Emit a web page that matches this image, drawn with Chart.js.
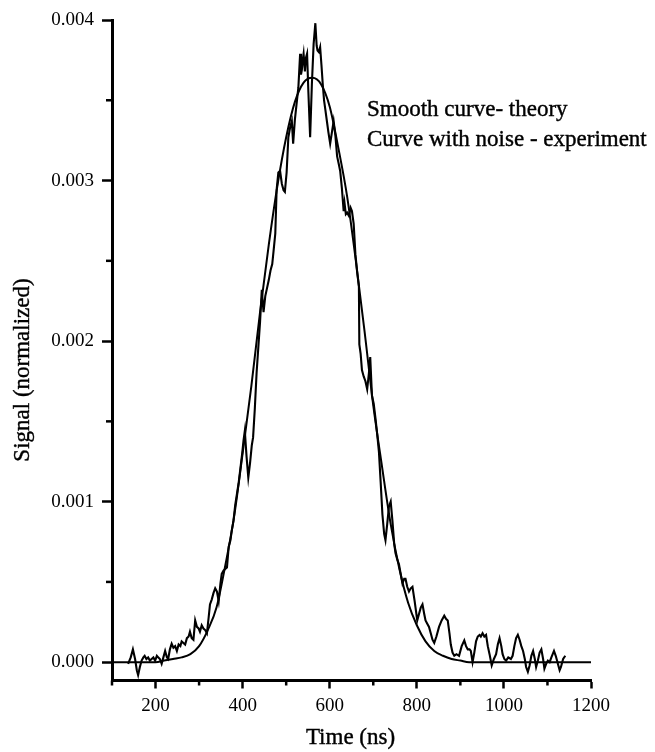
<!DOCTYPE html>
<html>
<head>
<meta charset="utf-8">
<script src="https://cdn.jsdelivr.net/npm/chart.js@4"></script>
<style>
  html, body { margin: 0; padding: 0; background: #ffffff; }
  #wrap { width: 655px; height: 752px; }
</style>
</head>
<body>
<div id="wrap"><canvas id="c" width="655" height="752"></canvas></div>
<script>
// ---- Data ----
// Theory (smooth curve)
const theoryTime = [100,120,140,160,180,200,220,240,260,280,300,320,340,360,380,400,420,440,460,480,500,520,540,560,580,600,620,640,660,680,700,720,740,760,780,800,820,840,860,880,900,920,960,1000,1050,1100,1150,1200];
const theorySignal = [0,0,0,0,0,0,0.00001,0.00002,0.00003,0.00005,0.0001,0.0002,0.00034,0.0006,0.0009,0.0013,0.00172,0.00218,0.0026,0.00297,0.00327,0.00349,0.00361,0.00364,0.0036,0.00346,0.0032,0.0029,0.0025,0.00206,0.0016,0.00122,0.00086,0.00058,0.00037,0.00023,0.00013,0.00007,0.00004,0.00002,0.00001,0,0,0,0,0,0,0];

// Experiment (curve with noise)
const expTime = [137,143,148,153,157,160,164,168,172,175,179,183,187,191,195,199,203,206,210,214,218,222,226,229,233,237,241,245,249,253,257,260,264,268,272,276,279,283,287,291,295,299,302,306,310,314,318,322,325,329,333,337,341,345,349,352,356,360,364,368,372,375,379,383,387,391,395,399,402,405,409,413,417,421,424,428,432,436,440,444,448,452,456,460,464,468,471,475,478,482,486,490,494,497,501,505,509,513,516,520,524,528,532,534,536,538,540,543,545,548,551,555,559,563,567,570,572,575,578,581,584,587,590,594,597,601,605,609,613,617,621,624,628,632,634,637,640,644,648,651,655,659,663,667,668,671,674,678,682,686,690,693,697,701,705,709,713,717,721,725,728,732,736,740,744,748,751,755,759,763,767,771,774,778,782,786,790,795,801,805,809,813,817,820,824,828,832,836,840,845,851,857,863,867,871,875,878,882,886,891,897,903,909,913,917,921,924,928,932,936,940,944,947,951,955,959,963,967,972,977,982,986,990,994,997,1001,1005,1010,1016,1020,1024,1028,1032,1036,1040,1044,1048,1051,1055,1059,1063,1067,1071,1074,1078,1082,1086,1090,1093,1097,1101,1105,1109,1115,1119,1122,1125,1128,1131,1136,1141];
const expSignal = [-0.00001,0.00003,0.00008,0.00002,-0.00005,-0.00008,-0.00003,0.00001,0.00003,0.00004,0.00002,0.00003,0.00001,0.00002,0.00003,0.00001,0.00004,0.00003,0.00002,-0.00001,0.00003,0.00007,0.00003,0.00002,0.00008,0.000115,0.00009,0.0001,0.00007,0.00011,0.0001,0.00013,0.00012,0.00011,0.00015,0.00016,0.00019,0.00015,0.00014,0.00026,0.00022,0.00021,0.00019,0.00023,0.00021,0.0002,0.00018,0.00028,0.00036,0.00039,0.00043,0.00046,0.00044,0.00038,0.00049,0.00055,0.00057,0.00058,0.00059,0.00072,0.00076,0.00082,0.00088,0.00098,0.00105,0.00112,0.00121,0.0013,0.00138,0.00144,0.00128,0.00115,0.00124,0.00135,0.0014,0.00158,0.0018,0.00196,0.00212,0.00232,0.00218,0.00228,0.00233,0.00238,0.00244,0.00248,0.00256,0.00267,0.00294,0.00305,0.00306,0.00298,0.00294,0.00293,0.00305,0.00327,0.00333,0.00337,0.00323,0.00338,0.00348,0.00358,0.00379,0.00366,0.00369,0.00375,0.00379,0.00368,0.00376,0.00379,0.00355,0.00327,0.0036,0.00385,0.00398,0.00384,0.00381,0.0038,0.00383,0.00372,0.0036,0.0035,0.00344,0.00336,0.0033,0.00323,0.0033,0.00337,0.00328,0.00315,0.0031,0.00306,0.00295,0.00281,0.00286,0.00279,0.0028,0.00278,0.00283,0.00281,0.00273,0.00254,0.00243,0.00234,0.00198,0.00192,0.00182,0.00178,0.00175,0.0017,0.0018,0.0019,0.00166,0.00161,0.00152,0.00142,0.00131,0.00112,0.00092,0.0008,0.00076,0.00086,0.00097,0.001,0.00088,0.00074,0.00068,0.00064,0.00061,0.00055,0.00049,0.00052,0.00052,0.00047,0.00044,0.00046,0.00047,0.00038,0.00026,0.0003,0.00034,0.00036,0.0003,0.00026,0.00024,0.00022,0.00018,0.00014,0.00012,0.00016,0.00022,0.00026,0.00029,0.00027,0.00026,0.00018,0.00011,0.00006,0.00004,0.00005,0.00004,0.0001,0.000135,0.0001,0.00008,0.00008,0.00007,0,0.00006,0.00013,0.00016,0.00017,0.00016,0.00018,0.00016,0.00017,0.0001,0.00005,-0.00002,0.00002,0.00005,0.00011,0.00015,0.0001,0.00005,0.00002,0.00001,0.00003,0.00002,0.00004,0.0001,0.00015,0.00017,0.00014,0.0001,0.00007,0.00002,-0.00003,-0.00006,-0.00002,0.00004,0.00007,0.00002,-0.00003,0.00001,0.00006,0.00008,0.00002,-0.00004,-0.00001,0.00001,0,0.00003,0.00007,0.00004,0.00001,-0.00002,-0.00005,-0.00003,0.00002,0.00004];

// Axis ticks / labels
const xMajorTicks = [200,400,600,800,1000,1200];
const xMinorTicks = [100,300,500,700,900,1100];
const yMajorTicks = [0,0.001,0.002,0.003,0.004];
const yMinorTicks = [0.0005,0.0015,0.0025,0.0035];
const xTitle = 'Time (ns)';
const yTitle = 'Signal (normalized)';
const legendLines = ['Smooth curve- theory', 'Curve with noise - experiment'];

const FONT = "'Liberation Serif', 'Times New Roman', Times, serif";

function isMajorX(v) { return xMajorTicks.some(t => Math.abs(t - v) < 1e-6); }
function isMajorY(v) { return yMajorTicks.some(t => Math.abs(t - v) < 1e-9); }

const extrasPlugin = {
  id: 'extras',
  afterDraw(chart) {
    const ctx = chart.ctx;
    const xs = chart.scales.x, ys = chart.scales.y;
    const area = chart.chartArea;
    ctx.save();
    ctx.strokeStyle = '#000';
    ctx.lineWidth = 2.5;
    // minor ticks
    xMinorTicks.forEach(v => {
      const px = xs.getPixelForValue(v);
      ctx.beginPath(); ctx.moveTo(px, area.bottom); ctx.lineTo(px, area.bottom + 5); ctx.stroke();
    });
    yMinorTicks.forEach(v => {
      const py = ys.getPixelForValue(v);
      ctx.beginPath(); ctx.moveTo(area.left, py); ctx.lineTo(area.left - 6, py); ctx.stroke();
    });
    // axis titles
    ctx.fillStyle = '#000';
    ctx.strokeStyle = '#000';
    ctx.lineWidth = 0.4;
    ctx.font = '23px ' + FONT;
    ctx.textAlign = 'center';
    ctx.textBaseline = 'middle';
    const cx = (area.left + area.right) / 2 - 1;
    ctx.fillText(xTitle, cx, 738);
    ctx.strokeText(xTitle, cx, 738);
    ctx.save();
    ctx.translate(23, 370);
    ctx.rotate(-Math.PI / 2);
    ctx.fillText(yTitle, 0, 0);
    ctx.strokeText(yTitle, 0, 0);
    ctx.restore();
    // annotation text
    ctx.textAlign = 'left';
    ctx.textBaseline = 'alphabetic';
    ctx.fillText(legendLines[0], 367, 116);
    ctx.strokeText(legendLines[0], 367, 116);
    ctx.fillText(legendLines[1], 367, 146);
    ctx.strokeText(legendLines[1], 367, 146);
    ctx.restore();
  }
};

const expPoints = expTime.map((t, i) => ({ x: t, y: expSignal[i] }));
const theoryPoints = theoryTime.map((t, i) => ({ x: t, y: theorySignal[i] }));

new Chart(document.getElementById('c'), {
  type: 'line',
  data: {
    datasets: [
      {
        label: 'Curve with noise - experiment',
        data: expPoints,
        borderColor: '#000',
        borderWidth: 2.1,
        pointRadius: 0,
        tension: 0,
        fill: false
      },
      {
        label: 'Smooth curve- theory',
        data: theoryPoints,
        borderColor: '#000',
        borderWidth: 2,
        pointRadius: 0,
        cubicInterpolationMode: 'monotone',
        fill: false
      }
    ]
  },
  options: {
    responsive: false,
    animation: false,
    devicePixelRatio: 1,
    layout: { padding: { top: 20, right: 64, left: 0, bottom: 0 } },
    plugins: { legend: { display: false }, title: { display: false }, tooltip: { enabled: false } },
    scales: {
      x: {
        type: 'linear',
        min: 100,
        max: 1200,
        afterFit(scale) { scale.height = 71.5; },
        border: { display: true, color: '#000', width: 3 },
        grid: {
          drawOnChartArea: false,
          drawTicks: true,
          tickLength: 8,
          tickWidth: 2.5,
          tickColor: (c) => (c.tick && isMajorX(c.tick.value)) ? '#000' : 'rgba(0,0,0,0)'
        },
        ticks: {
          stepSize: 100,
          autoSkip: false,
          maxRotation: 0,
          includeBounds: false,
          padding: 6,
          color: '#000',
          font: { family: FONT, size: 19 },
          callback: (v) => isMajorX(v) ? String(v) : ''
        }
      },
      y: {
        type: 'linear',
        min: -0.000114,
        max: 0.004,
        afterFit(scale) { scale.width = 112; },
        border: { display: true, color: '#000', width: 3 },
        grid: {
          drawOnChartArea: false,
          drawTicks: true,
          tickLength: 10,
          tickWidth: 2.5,
          tickColor: (c) => (c.tick && isMajorY(c.tick.value)) ? '#000' : 'rgba(0,0,0,0)'
        },
        ticks: {
          stepSize: 0.0005,
          autoSkip: false,
          includeBounds: false,
          padding: 8,
          color: '#000',
          font: { family: FONT, size: 19 },
          callback: (v) => isMajorY(v) ? Number(v).toFixed(3) : ''
        }
      }
    }
  },
  plugins: [extrasPlugin]
});
</script>
</body>
</html>
